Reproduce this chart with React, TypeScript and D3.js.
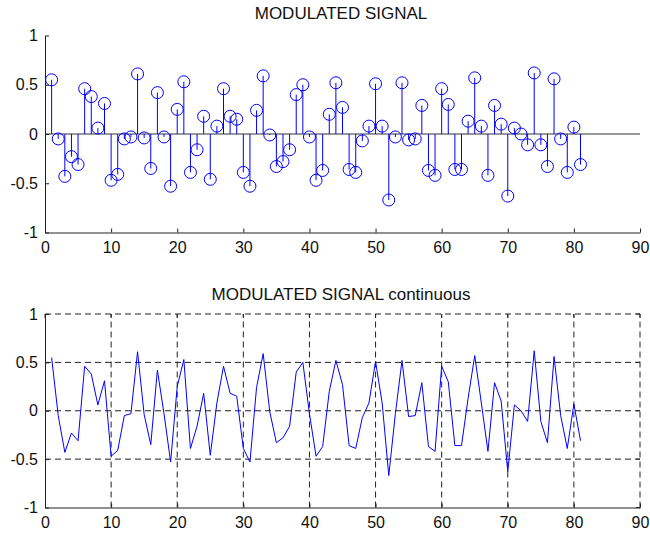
import React, { useRef, useEffect } from "react";
import { select, scaleLinear, axisLeft, axisBottom, line } from "d3";

// sample index 1..81
const samples: number[] = Array.from({ length: 81 }, (_, i) => i + 1);

// modulated signal values
const signal: number[] = [
  0.55, -0.05, -0.43, -0.23, -0.31, 0.46, 0.38, 0.06, 0.31, -0.47,
  -0.41, -0.05, -0.03, 0.61, -0.04, -0.35, 0.42, -0.03, -0.53, 0.25,
  0.53, -0.39, -0.16, 0.18, -0.46, 0.08, 0.46, 0.18, 0.15, -0.39,
  -0.53, 0.24, 0.59, -0.01, -0.33, -0.28, -0.16, 0.4, 0.5, -0.03,
  -0.47, -0.37, 0.2, 0.52, 0.27, -0.36, -0.39, -0.07, 0.08, 0.51,
  0.08, -0.67, -0.03, 0.52, -0.06, -0.05, 0.29, -0.37, -0.42, 0.46,
  0.3, -0.36, -0.36, 0.13, 0.57, 0.08, -0.42, 0.29, 0.1, -0.63,
  0.06, 0.0, -0.11, 0.62, -0.11, -0.33, 0.56, -0.05, -0.39, 0.07,
  -0.31
];

const xTicks = [0, 10, 20, 30, 40, 50, 60, 70, 80, 90];
const yTicks = [-1, -0.5, 0, 0.5, 1];
const titles = ["MODULATED SIGNAL", "MODULATED SIGNAL continuous"];

const W = 650;
const H = 533;
const FONT = "'Liberation Sans', Arial, sans-serif";

const App = () => {
  const svgRef = useRef<SVGSVGElement>(null);

  useEffect(() => {
    const svg = select(svgRef.current);
    svg.selectAll("*").remove();

    const xScale = scaleLinear().domain([0, 90]).range([45, 640]);
    const yTop = scaleLinear().domain([-1, 1]).range([232.5, 35.5]);
    const yBot = scaleLinear().domain([-1, 1]).range([507.5, 314]);

    // ---------- top: stem plot ----------
    const top = svg.append("g");

    // baseline at zero
    top
      .append("line")
      .attr("x1", xScale(0))
      .attr("x2", xScale(90))
      .attr("y1", yTop(0))
      .attr("y2", yTop(0))
      .attr("stroke", "#333")
      .attr("stroke-width", 1);

    top
      .selectAll(".stem")
      .data(signal)
      .join("line")
      .attr("class", "stem")
      .attr("x1", (d, i) => xScale(samples[i]))
      .attr("x2", (d, i) => xScale(samples[i]))
      .attr("y1", yTop(0))
      .attr("y2", d => yTop(d))
      .attr("stroke", "#0000ff")
      .attr("stroke-width", 1);

    top
      .selectAll(".mark")
      .data(signal)
      .join("circle")
      .attr("class", "mark")
      .attr("cx", (d, i) => xScale(samples[i]))
      .attr("cy", d => yTop(d))
      .attr("r", 6)
      .attr("fill", "none")
      .attr("stroke", "#0000ff")
      .attr("stroke-width", 1);

    const drawAxes = (g: any, y: any) => {
      const xa = g
        .append("g")
        .attr("transform", `translate(0,${y(-1)})`)
        .call(axisBottom(xScale).tickValues(xTicks).tickSizeInner(-4).tickSizeOuter(0).tickPadding(9));
      const ya = g
        .append("g")
        .attr("transform", `translate(${xScale(0)},0)`)
        .call(axisLeft(y).tickValues(yTicks).tickSizeInner(-4).tickSizeOuter(0).tickPadding(7).tickFormat((d: any) => String(d)));
      [xa, ya].forEach(a => {
        a.selectAll("path").attr("stroke", "#222");
        a.selectAll("line").attr("stroke", "#222");
        a.selectAll("text")
          .attr("fill", "#111")
          .style("font-family", FONT)
          .style("font-size", "16px");
      });
    };

    drawAxes(top, yTop);

    top
      .append("text")
      .attr("x", 341)
      .attr("y", 19)
      .attr("text-anchor", "middle")
      .style("font-family", FONT)
      .style("font-size", "17px")
      .attr("fill", "#111")
      .text(titles[0]);

    // ---------- bottom: continuous line with grid ----------
    const bot = svg.append("g");

    // grid (dashed)
    bot
      .selectAll(".vgrid")
      .data(xTicks.slice(1))
      .join("line")
      .attr("class", "vgrid")
      .attr("x1", d => xScale(d))
      .attr("x2", d => xScale(d))
      .attr("y1", yBot(-1))
      .attr("y2", yBot(1))
      .attr("stroke", "#222")
      .attr("stroke-dasharray", "6,4");
    bot
      .selectAll(".hgrid")
      .data(yTicks.slice(1))
      .join("line")
      .attr("class", "hgrid")
      .attr("x1", xScale(0))
      .attr("x2", xScale(90))
      .attr("y1", d => yBot(d))
      .attr("y2", d => yBot(d))
      .attr("stroke", "#222")
      .attr("stroke-dasharray", "6,4");

    // mirrored ticks on top and right edges
    bot
      .selectAll(".ttick")
      .data(xTicks)
      .join("line")
      .attr("class", "ttick")
      .attr("x1", d => xScale(d))
      .attr("x2", d => xScale(d))
      .attr("y1", yBot(1))
      .attr("y2", yBot(1) + 4)
      .attr("stroke", "#222");
    bot
      .selectAll(".rtick")
      .data(yTicks)
      .join("line")
      .attr("class", "rtick")
      .attr("x1", xScale(90))
      .attr("x2", xScale(90) - 4)
      .attr("y1", d => yBot(d))
      .attr("y2", d => yBot(d))
      .attr("stroke", "#222");

    const sigLine = line<number>()
      .x((d, i) => xScale(samples[i]))
      .y(d => yBot(d));

    bot
      .append("path")
      .datum(signal)
      .attr("d", sigLine)
      .attr("fill", "none")
      .attr("stroke", "#0000ff")
      .attr("stroke-width", 1);

    drawAxes(bot, yBot);

    bot
      .append("text")
      .attr("x", 341)
      .attr("y", 300)
      .attr("text-anchor", "middle")
      .style("font-family", FONT)
      .style("font-size", "17px")
      .attr("fill", "#111")
      .text(titles[1]);
  }, []);

  return (
    <svg
      ref={svgRef}
      width={W}
      height={H}
      style={{ position: "absolute", left: 0, top: 0, background: "#fff" }}
    />
  );
};

export default App;
